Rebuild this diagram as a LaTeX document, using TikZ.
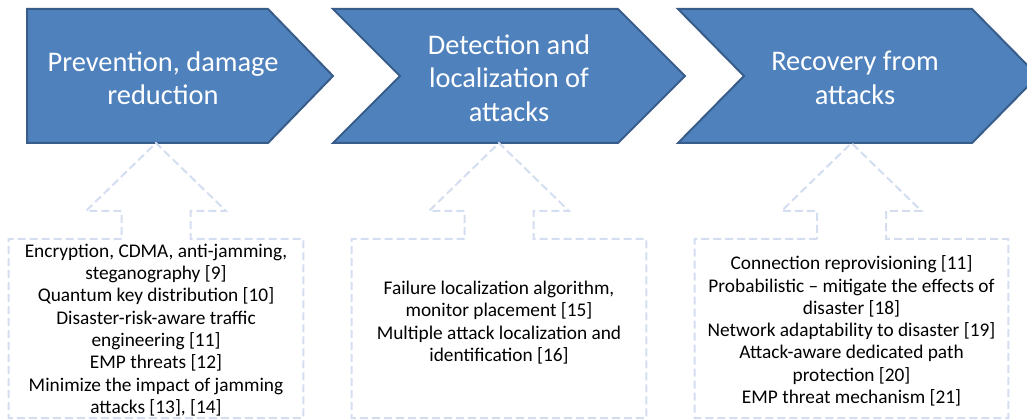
\documentclass[tikz,border=0pt]{standalone}
\usepackage{fontspec}
\setmainfont{Carlito}
\usetikzlibrary{calc}
\definecolor{chevfill}{RGB}{79,129,189}
\definecolor{chevline}{RGB}{56,93,138}
\definecolor{dashblue}{RGB}{212,222,240}
% dashed outline: list box (top 239, bottom 418) with an up arrow on top
\def\uparrowbox#1{%
  \coordinate (#1 top) at (#1.north |- 0,239);
  \draw[dashline] ($(#1 top)+(-34.5,0)$) -- (#1.west |- 0,239) -- (#1.west |- 0,418)
    -- (#1.east |- 0,418) -- (#1.east |- 0,239) -- ($(#1 top)+(34.5,0)$)
    -- ++(0,-28) -- ++(35.5,0) -- ($(#1 top)+(0,-96)$) -- ++(-70,68)
    -- ++(35.5,0) -- cycle;}

\begin{document}
\begin{tikzpicture}[x=0.75pt,y=-0.75pt,node distance=259.5pt,
    chev/.style={fill=chevfill,draw=chevline,line width=1.5pt},
    chevtext/.style={text=white,align=center,font=\fontsize{21.3}{25}\selectfont},
    listbox/.style={align=center,font=\fontsize{14.5}{16.7}\selectfont,inner sep=0pt},
    dashline/.style={draw=dashblue,line width=1.5pt,dash pattern=on 6pt off 3pt}]
    \useasboundingbox (0,0) rectangle (1027,420);
    % chevrons
    \draw[chev] (27,9) -- (268,9) -- (333,76) -- (268,143) -- (27,143) -- cycle;
    \draw[chev] (333,9) -- (618,9) -- (685,76) -- (618,143) -- (333,143) -- (400,76) -- cycle;
    \draw[chev] (678,9) -- (972,9) -- (1038,76) -- (972,143) -- (678,143) -- (744,76) -- cycle;
    \node[chevtext] (prev) at (163,78) {Prevention, damage\\reduction};
    \node[chevtext,right of=prev] (detect) {Detection and\\localization of\\attacks};
    \node[chevtext,right of=detect] (recov) {Recovery from\\attacks};
    % lists
    \node[listbox,minimum width=220.5pt] (prevlist) at (156,330) {Encryption, CDMA, anti-jamming,\\steganography [9]\\Quantum key distribution [10]\\Disaster-risk-aware traffic\\engineering [11]\\EMP threats [12]\\Minimize the impact of jamming\\attacks [13], [14]};
    \node[listbox,minimum width=220.5pt] (detectlist) at (499,322.5) {Failure localization algorithm,\\monitor placement [15]\\Multiple attack localization and\\identification [16]};
    \node[listbox,minimum width=234.75pt] (recovlist) at (851.5,331) {Connection reprovisioning [11]\\Probabilistic – mitigate the effects of\\disaster [18]\\Network adaptability to disaster [19]\\Attack-aware dedicated path\\protection [20]\\EMP threat mechanism [21]};
    \uparrowbox{prevlist}
    \uparrowbox{detectlist}
    \uparrowbox{recovlist}
\end{tikzpicture}
\end{document}
